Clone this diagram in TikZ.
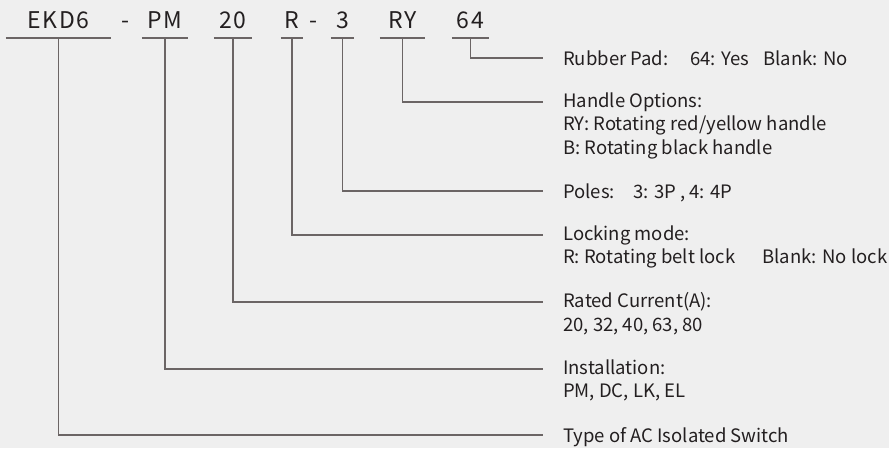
\documentclass[tikz,border=0pt]{standalone}
\usepackage{fontspec}
\setmainfont{Noto Sans CJK SC}
\usepackage{xcolor}
\definecolor{codeink}{HTML}{231F20}
\definecolor{leadgray}{HTML}{6B6565}
\definecolor{paper}{HTML}{EFEFEF}

\begin{document}
\begin{tikzpicture}[
  x=1pt,
  y=-1pt,
  every node/.style={codeink, inner sep=0pt},
  code/.style={font=\fontsize{23}{28}\selectfont\addfontfeatures{LetterSpace=8},
    anchor=south, text depth=9pt},
  desc/.style={font=\fontsize{18.5}{23.5}\selectfont, anchor=north west,
    align=left, execute at begin node=\strut},
  underline/.style={leadgray, line width=1.3pt},
  lead/.style={leadgray, line width=1.2pt}
]
  \fill[paper] (0,0) rectangle (889,448);
  \useasboundingbox (0,0) rectangle (889,448);

  % ---- the model code ----------------------------------------------------
  \node[code, minimum width=105pt] (cType) at (58.5,38) {EKD6};
  \node[code] (dashA) at (125,38) {-};
  \node[code, minimum width=46pt] (cInst) at (165,38) {PM};
  \node[code, minimum width=38pt] (cCurr) at (233,38) {20};
  \node[code, minimum width=22pt] (cLock) at (292,38) {R};
  \node[code] (dashB) at (313,38) {-};
  \node[code, minimum width=23pt] (cPole) at (342.5,38) {3};
  \node[code, minimum width=45pt] (cHand) at (402.5,38) {RY};
  \node[code, minimum width=37pt] (cPad) at (470.5,38) {64};

  \foreach \c in {cType,cInst,cCurr,cLock,cPole,cHand,cPad}
    \draw[underline] (\c.south west) -- (\c.south east);

  % ---- what each part means ----------------------------------------------
  \node[desc] (dPad) at (563,48.5)
    {\makebox[127pt][l]{Rubber Pad:}\makebox[73pt][l]{64: Yes}Blank: No};
  \node[desc] (dHand) at (563,92.5)
    {Handle Options:\\RY: Rotating red/yellow handle\\B: Rotating black handle};
  \node[desc] (dPole) at (563,181.5) {\makebox[70pt][l]{Poles:}3: 3P , 4: 4P};
  \node[desc] (dLock) at (563,225.5)
    {Locking mode:\\\makebox[199pt][l]{R: Rotating belt lock}Blank: No lock};
  \node[desc] (dCurr) at (563,292.5) {Rated Current(A):\\20, 32, 40, 63, 80};
  \node[desc] (dInst) at (563,359.5) {Installation:\\PM, DC, LK, EL};
  \node[desc] (dType) at (563,425.5) {Type of AC Isolated Switch};

  % ---- leaders from code to meaning --------------------------------------
  \foreach \c/\d in {cPad/dPad,cHand/dHand,cPole/dPole,cLock/dLock,
                     cCurr/dCurr,cInst/dInst,cType/dType} {
    \coordinate (e\d) at ([xshift=-20pt,yshift=-9.5pt]\d.north west);
    \draw[lead] (\c.south) |- (e\d);
  }
\end{tikzpicture}
\end{document}
